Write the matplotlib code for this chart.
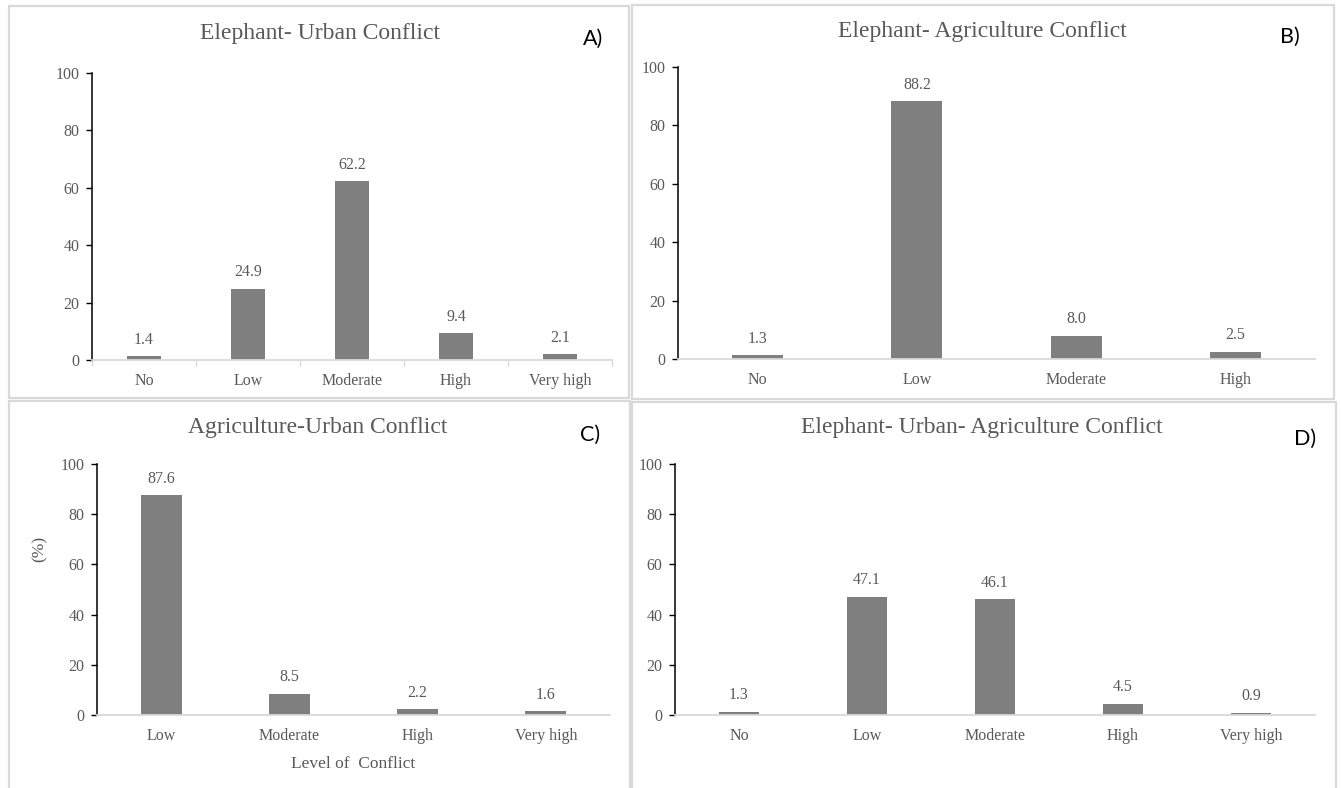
import matplotlib
matplotlib.use("Agg")
import matplotlib.pyplot as plt
from matplotlib.patches import Rectangle
from matplotlib.ticker import FixedLocator

# Survey results: share of respondents (%) per perceived conflict level
cats_a = ["No", "Low", "Moderate", "High", "Very high"]
vals_a = [1.4, 24.9, 62.2, 9.4, 2.1]

cats_b = ["No", "Low", "Moderate", "High"]
vals_b = [1.3, 88.2, 8.0, 2.5]

cats_c = ["Low", "Moderate", "High", "Very high"]
vals_c = [87.6, 8.5, 2.2, 1.6]

cats_d = ["No", "Low", "Moderate", "High", "Very high"]
vals_d = [1.3, 47.1, 46.1, 4.5, 0.9]

titles = ["Elephant- Urban Conflict", "Elephant- Agriculture Conflict",
          "Agriculture-Urban Conflict", "Elephant- Urban- Agriculture Conflict"]
letters = ["A)", "B)", "C)", "D)"]
y_ticks = [0, 20, 40, 60, 80, 100]

W, H = 1341, 788
SERIF = ["Liberation Serif", "DejaVu Serif"]
TXT = "#595959"
BAR = "#7f7f7f"
FRAME = "#d9d9d9"

fig = plt.figure(figsize=(W / 100, H / 100), dpi=100)


def px_axes(left, right, top, bottom):
    return fig.add_axes([left / W, 1 - bottom / H, (right - left) / W, (bottom - top) / H])


def frame(left, top, right, bottom):
    fig.patches.append(Rectangle((left / W, 1 - bottom / H), (right - left) / W, (bottom - top) / H,
                                 transform=fig.transFigure, fill=False, edgecolor=FRAME,
                                 linewidth=1.6, zorder=0))


def bar_panel(ax, cats, vals, boundary_ticks=False):
    x = range(len(cats))
    ax.bar(x, vals, width=0.32, color=BAR, zorder=2)
    ax.set_xlim(-0.5, len(cats) - 0.5)
    ax.set_ylim(0, 100)
    ax.set_yticks(y_ticks)
    ax.set_yticklabels([str(t) for t in y_ticks], family=SERIF, fontsize=11.5, color=TXT)
    ax.set_xticks(list(x))
    ax.set_xticklabels(cats, family=SERIF, fontsize=11.5, color=TXT)
    ax.tick_params(axis="x", length=0, pad=9)
    ax.tick_params(axis="y", length=4, width=1.0, color="black", pad=5)
    if boundary_ticks:
        ax.xaxis.set_minor_locator(FixedLocator([i - 0.5 for i in range(len(cats) + 1)]))
        ax.tick_params(axis="x", which="minor", length=4, width=1.0, color=FRAME)
    for s in ("top", "right"):
        ax.spines[s].set_visible(False)
    ax.spines["left"].set_color("black")
    ax.spines["left"].set_linewidth(1.1)
    ax.spines["bottom"].set_color(FRAME)
    ax.spines["bottom"].set_linewidth(1.3)
    for xi, v in zip(x, vals):
        ax.annotate(f"{v:.1f}", (xi, v), xytext=(0, 6), textcoords="offset points",
                    ha="center", va="bottom", family=SERIF, fontsize=11.5, color=TXT)


# panel frames
frame(9, 6, 629, 398)
frame(632, 5, 1334, 399)
frame(9, 401, 630, 790)
frame(632, 402, 1336, 790)

ax_a = px_axes(92, 612, 73, 360)
ax_b = px_axes(678, 1315, 67, 359)
ax_c = px_axes(97, 610, 464, 715)
ax_d = px_axes(675, 1315, 464, 715)

bar_panel(ax_a, cats_a, vals_a, boundary_ticks=True)
bar_panel(ax_b, cats_b, vals_b)
bar_panel(ax_c, cats_c, vals_c)
bar_panel(ax_d, cats_d, vals_d)

ax_c.set_ylabel("(%)", family=SERIF, fontsize=12.5, color=TXT)
ax_c.yaxis.set_label_coords(-0.097, 0.66)
ax_c.set_xlabel("Level of  Conflict", family=SERIF, fontsize=12.5, color=TXT)
ax_c.xaxis.set_label_coords(0.5, -0.165)

# panel titles and letters
title_pos = [(320, 33), (982, 32), (318, 427), (982, 427)]
letter_pos = [(593, 39), (1290, 37), (590, 435), (1305, 439)]
for t, (tx, ty), l, (lx, ly) in zip(titles, title_pos, letters, letter_pos):
    fig.text(tx / W, 1 - ty / H, t, ha="center", va="center", family=SERIF,
             fontsize=17, color=TXT)
    fig.text(lx / W, 1 - ly / H, l, ha="center", va="center", family=["Lato", "DejaVu Sans"],
             fontsize=15.5, color="black")

fig.savefig("out.png", dpi=100, facecolor="white")
